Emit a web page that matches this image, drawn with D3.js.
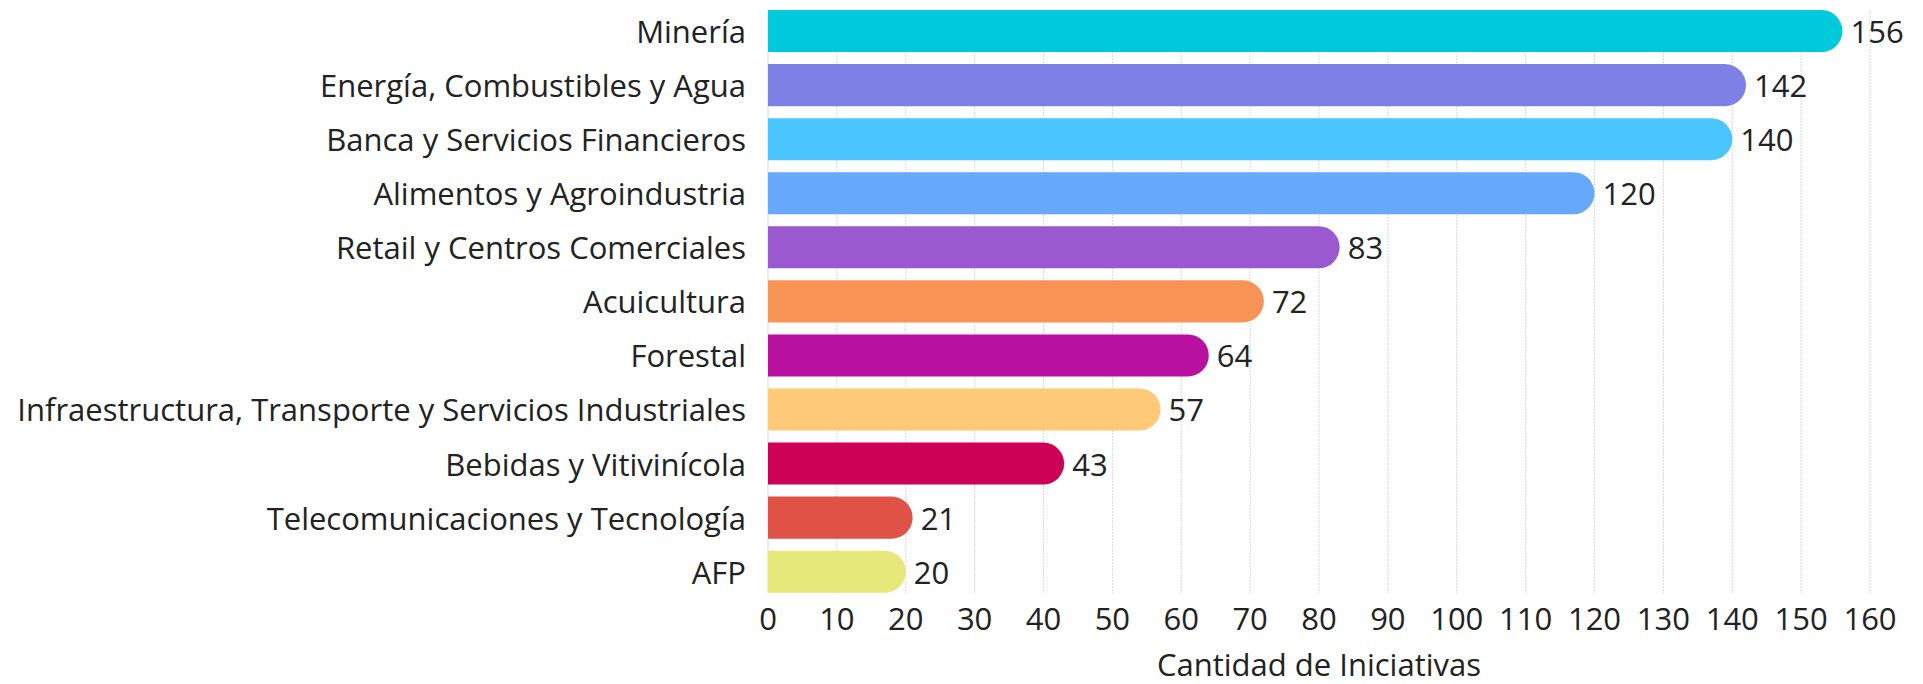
<!DOCTYPE html>
<html>
<head>
<meta charset="utf-8">
<script src="https://cdn.jsdelivr.net/npm/d3@7"></script>
<style>
  html, body { margin: 0; padding: 0; background: #fff; }
  svg { display: block; }
  text { font-family: "Open Sans", sans-serif; fill: #222; }
</style>
</head>
<body>
<svg id="chart" width="1923" height="684"></svg>
<script>
const categories = [
  "Minería",
  "Energía, Combustibles y Agua",
  "Banca y Servicios Financieros",
  "Alimentos y Agroindustria",
  "Retail y Centros Comerciales",
  "Acuicultura",
  "Forestal",
  "Infraestructura, Transporte y Servicios Industriales",
  "Bebidas y Vitivinícola",
  "Telecomunicaciones y Tecnología",
  "AFP"
];
const values = [156, 142, 140, 120, 83, 72, 64, 57, 43, 21, 20];
const colors = ["#00C9DB", "#7F80E6", "#4BC5FF", "#66A8FB", "#9B59CF", "#F79455",
                "#B9119F", "#FFCA78", "#CC0055", "#E05146", "#E6E87A"];
const xTicks = [0, 10, 20, 30, 40, 50, 60, 70, 80, 90, 100, 110, 120, 130, 140, 150, 160];
const xTitle = "Cantidad de Iniciativas";

const fontSize = 31;
const plotLeft = 768, plotRight = 1870, plotTop = 10, plotBottom = 592.7;

const svg = d3.select("#chart");
const x = d3.scaleLinear().domain([0, 160]).range([plotLeft, plotRight]);
const y = d3.scaleBand().domain(categories).range([plotTop, plotBottom]).paddingInner(0.222).paddingOuter(0);

// gridlines
svg.append("g").selectAll("line").data(xTicks).join("line")
  .attr("x1", d => x(d)).attr("x2", d => x(d))
  .attr("y1", plotTop).attr("y2", plotBottom)
  .attr("stroke", "#d9d9d9").attr("stroke-width", 1)
  .attr("stroke-dasharray", d => d === 0 ? null : "2,1");

// bars with rounded right end
const bh = y.bandwidth();
svg.append("g").selectAll("path").data(categories).join("path")
  .attr("d", (c, i) => {
    const x0 = x(0), x1 = x(values[i]), y0 = y(c), r = bh / 2;
    const xr = Math.max(x0, x1 - r);
    return `M${x0},${y0}H${xr}A${r},${r} 0 0 1 ${xr},${y0 + bh}H${x0}Z`;
  })
  .attr("fill", (c, i) => colors[i]);

// value labels
svg.append("g").selectAll("text").data(categories).join("text")
  .attr("x", (c, i) => x(values[i]) + 8)
  .attr("y", c => y(c) + bh / 2)
  .attr("dominant-baseline", "central")
  .attr("font-size", fontSize)
  .text((c, i) => values[i]);

// category labels
svg.append("g").selectAll("text").data(categories).join("text")
  .attr("x", plotLeft - 22)
  .attr("y", c => y(c) + bh / 2)
  .attr("dominant-baseline", "central")
  .attr("text-anchor", "end")
  .attr("font-size", fontSize)
  .text(c => c);

// x tick labels
svg.append("g").selectAll("text").data(xTicks).join("text")
  .attr("x", d => x(d))
  .attr("y", 630)
  .attr("text-anchor", "middle")
  .attr("font-size", fontSize)
  .text(d => d);

// axis title
svg.append("text")
  .attr("x", (plotLeft + plotRight) / 2)
  .attr("y", 676)
  .attr("text-anchor", "middle")
  .attr("font-size", fontSize)
  .text(xTitle);
</script>
</body>
</html>
